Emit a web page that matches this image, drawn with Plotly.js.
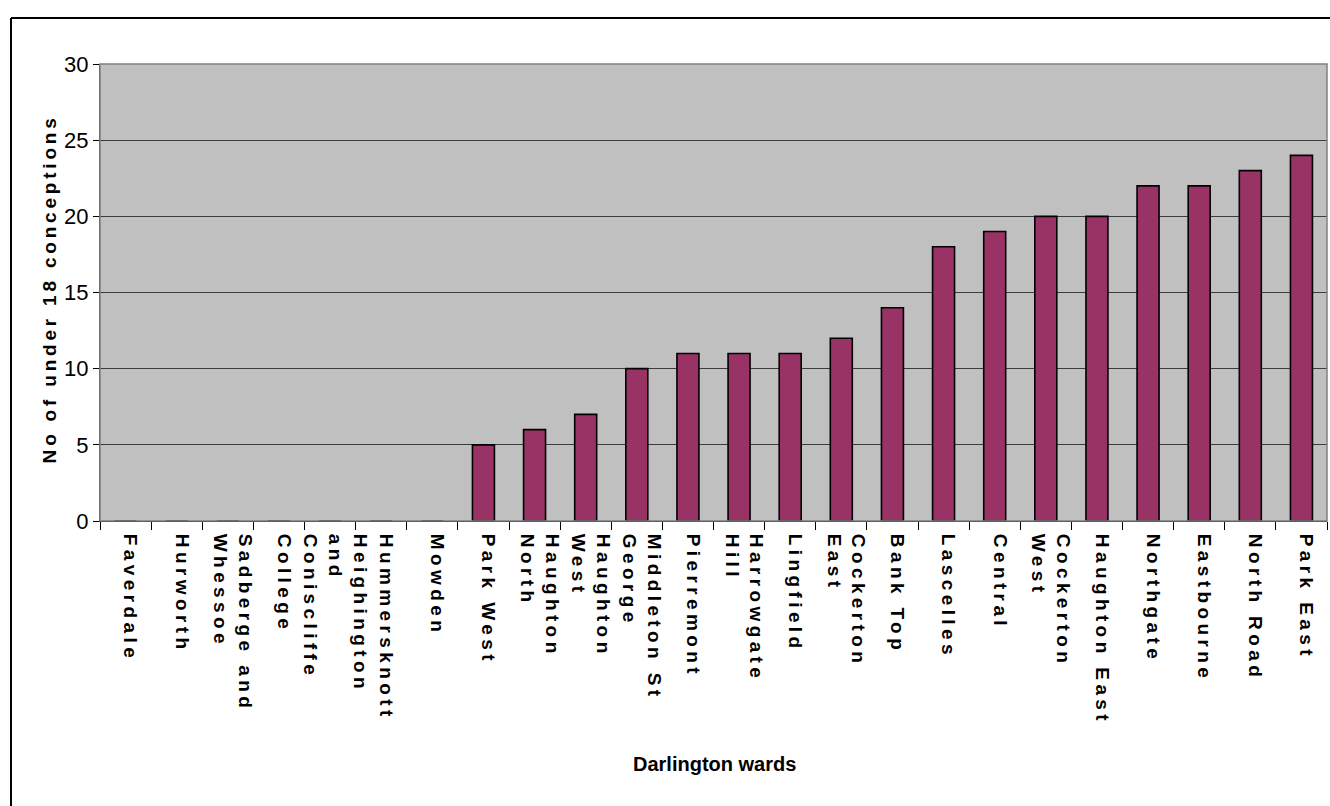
<!DOCTYPE html>
<html>
<head>
<meta charset="utf-8">
<script src="https://cdn.plot.ly/plotly-3.0.1.min.js"></script>
<style>
  html, body { margin: 0; padding: 0; background: #ffffff; }
  #chart { width: 1330px; height: 806px; }
  /* spaced-out lettering used for the ward names and the y-axis title */
  #chart .xtick text { letter-spacing: 4.4px; }
  #chart g.annotation[data-index="0"] text { letter-spacing: 3.8px; }
</style>
</head>
<body>
<div id="chart"></div>
<script>
// Darlington wards, ordered by number of under-18 conceptions
const wards = [
  "Faverdale", "Hurworth", "Sadberge and<br>Whessoe", "College",
  "Heighington<br>and<br>Coniscliffe", "Hummersknott", "Mowden", "Park West",
  "Haughton<br>North", "Haughton<br>West", "Middleton St<br>George", "Pierremont",
  "Harrowgate<br>Hill", "Lingfield", "Cockerton<br>East", "Bank Top",
  "Lascelles", "Central", "Cockerton<br>West", "Haughton East",
  "Northgate", "Eastbourne", "North Road", "Park East"
];
const conceptions = [
  0, 0, 0, 0,
  0, 0, 0, 5,
  6, 7, 10, 11,
  11, 11, 12, 14,
  18, 19, 20, 20,
  22, 22, 23, 24
];
const yTicks = [0, 5, 10, 15, 20, 25, 30];
const xTitle = "Darlington wards";
const yTitle = "No of under 18 conceptions";

const W = 1330, H = 806;
const M = { l: 100, r: 3, t: 64, b: 285 };
const pw = W - M.l - M.r, ph = H - M.t - M.b;
// pixel -> paper coordinates for frame lines and axis titles
const px = v => (v - M.l) / pw;
const py = v => 1 - (v - M.t) / ph;

const trace = {
  type: "bar",
  x: wards,
  y: conceptions,
  marker: { color: "#993366", line: { color: "#000000", width: 1.6 } },
  hoverinfo: "x+y"
};

const layout = {
  width: W, height: H,
  margin: M,
  paper_bgcolor: "#ffffff",
  plot_bgcolor: "#c0c0c0",
  bargap: 0.57,
  showlegend: false,
  font: { family: "Liberation Sans, Arial, sans-serif", color: "#000000" },
  xaxis: {
    type: "category",
    tickangle: 90,
    tickson: "boundaries",
    ticks: "outside",
    ticklen: 8,
    tickcolor: "#000000",
    ticklabelstandoff: 8,
    ticklabelshift: 5,
    showline: true,
    linecolor: "#000000",
    linewidth: 1,
    showgrid: false,
    automargin: false,
    tickfont: { family: "Liberation Sans, Arial, sans-serif", size: 19, weight: "bold", color: "#000000" }
  },
  yaxis: {
    range: [0, 30],
    tickvals: yTicks,
    ticktext: yTicks.map(String),
    ticks: "outside",
    ticklen: 6,
    tickcolor: "#000000",
    showline: true,
    linecolor: "#404040",
    linewidth: 1,
    showgrid: true,
    gridcolor: "#3c3c3c",
    gridwidth: 1,
    zeroline: false,
    automargin: false,
    tickfont: { family: "Liberation Sans, Arial, sans-serif", size: 22, color: "#000000" }
  },
  annotations: [
    { text: yTitle, xref: "paper", yref: "paper", x: px(49), y: py(289),
      xanchor: "center", yanchor: "middle", textangle: -90, showarrow: false,
      font: { family: "Liberation Sans, Arial, sans-serif", size: 19, weight: "bold", color: "#000000" } },
    { text: xTitle, xref: "paper", yref: "paper", x: px(714), y: py(764),
      xanchor: "center", yanchor: "middle", showarrow: false,
      font: { family: "Liberation Sans, Arial, sans-serif", size: 20, weight: "bold", color: "#000000" } }
  ],
  shapes: [
    // grey frame round the plotting area
    { type: "rect", xref: "paper", yref: "paper", x0: 0, x1: 1, y0: 0, y1: 1,
      line: { color: "#808080", width: 1.5 }, fillcolor: "rgba(0,0,0,0)", layer: "above" },
    // outer chart frame (top and left edges)
    { type: "line", xref: "paper", yref: "paper", x0: px(11), x1: px(W + 5), y0: py(18), y1: py(18),
      line: { color: "#000000", width: 2 } },
    { type: "line", xref: "paper", yref: "paper", x0: px(11), x1: px(11), y0: py(18), y1: py(H + 5),
      line: { color: "#000000", width: 2 } }
  ]
};

Plotly.newPlot("chart", [trace], layout, { staticPlot: true, displayModeBar: false });
</script>
</body>
</html>
